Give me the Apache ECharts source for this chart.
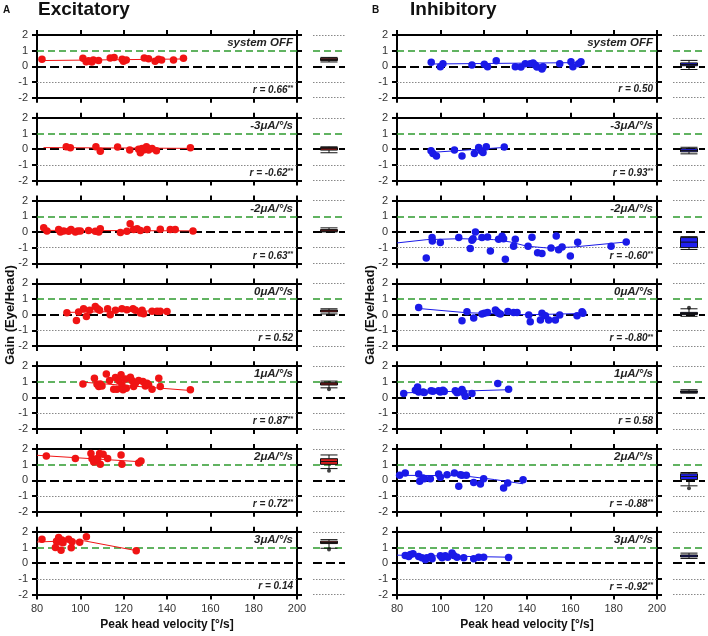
<!DOCTYPE html>
<html>
<head>
<meta charset="utf-8">
<script src="https://cdn.jsdelivr.net/npm/echarts@6/dist/echarts.min.js"></script>
<style>
html, body { margin: 0; padding: 0; background: #fff; }
#chart { width: 708px; height: 636px; }
</style>
</head>
<body>
<div id="chart"></div>
<script>
// conditions (one row of panels each)
const conditions = ['system OFF', '-3\u03bcA/\u00b0/s', '-2\u03bcA/\u00b0/s', '0\u03bcA/\u00b0/s', '1\u03bcA/\u00b0/s', '2\u03bcA/\u00b0/s', '3\u03bcA/\u00b0/s']
const excR = ['0.66**', '-0.62**', '0.63**', '0.52', '0.87**', '0.72**', '0.14']
const inhR = ['0.50', '0.93**', '-0.60**', '-0.80**', '0.58', '-0.88**', '-0.92**']

// Excitatory: [peak head velocity, gain]
const excOff = [[82.3, 0.45], [101.2, 0.51], [102.7, 0.3], [103.8, 0.36], [105.3, 0.28], [106, 0.4], [108.4, 0.38], [113.8, 0.53], [115.6, 0.57], [119.3, 0.45], [119.9, 0.32], [121.2, 0.4], [129.5, 0.53], [131.5, 0.49], [134.5, 0.32], [136.1, 0.45], [137.5, 0.4], [143, 0.4], [147.6, 0.51]]
const excM3 = [[93.5, 0.15], [95.4, 0.09], [107.2, 0.15], [109.2, -0.13], [117.2, 0.13], [122.8, -0.06], [126.9, 0], [127.7, -0.23], [128.5, 0.04], [129.2, -0.06], [130.5, 0.15], [131.5, -0.06], [133.1, 0.04], [135.1, -0.1], [150.8, 0.09]]
const excM2 = [[83.1, 0.26], [84.6, 0.06], [90, 0.15], [90.8, 0], [92.3, 0.06], [94.6, 0.04], [95.7, 0.15], [97.7, 0], [98.8, 0.06], [100, 0.06], [103.8, 0.1], [106.9, 0.04], [108.5, 0], [109.2, 0.21], [118.5, -0.04], [121.5, 0.04], [123, 0.53], [124.6, 0.15], [126.2, 0.21], [127.7, 0.1], [130.8, 0.15], [136.9, 0.17], [141.5, 0.15], [143.8, 0.15], [152, 0.06]]
const exc0 = [[93.8, 0.13], [98.2, -0.36], [99.2, 0.17], [101.5, 0.38], [102.8, -0.11], [104.3, 0.28], [106.9, 0.53], [108, 0.38], [108.9, 0.28], [112.6, 0.38], [113.8, 0], [116.2, 0.28], [119.2, 0.38], [121.5, 0.32], [124.3, 0.38], [125.4, 0.28], [127.7, 0.11], [128.5, 0.28], [129.2, 0.06], [133.1, 0.23], [135.4, 0.23], [136.9, 0.23], [140, 0.21]]
const exc1 = [[101.2, 0.87], [106.5, 1.23], [107.7, 0.85], [108.5, 0.7], [109.2, 0.87], [110, 0.74], [112, 1.51], [113.5, 1.09], [115.4, 0.53], [116.2, 1.28], [116.9, 0.53], [117.7, 1.09], [118.8, 1.45], [119.2, 0.81], [119.7, 0.49], [120.8, 1.19], [121.2, 0.6], [123.1, 1.3], [123.8, 1.09], [124.6, 0.7], [125.4, 0.91], [126.9, 1.09], [128.9, 1.02], [130, 0.74], [130.8, 0.91], [131.5, 0.81], [133.1, 0.53], [136.2, 1.23], [136.9, 0.7], [150.8, 0.49]]
const exc2 = [[84.3, 1.55], [97.7, 1.4], [104.9, 1.72], [105.4, 1.38], [106.2, 1.17], [106.9, 1.34], [108, 1.4], [108.9, 1.72], [109.2, 1.02], [110.5, 1.66], [112.6, 1.4], [118.8, 1.62], [119.2, 1.02], [126.9, 1.11], [128, 1.23]]
const exc3 = [[82.3, 1.53], [88.5, 1.0], [89, 1.4], [90, 1.64], [90.5, 1.36], [91.1, 0.83], [91.5, 1.47], [92, 1.3], [94.6, 1.53], [95.8, 0.98], [96.2, 1.36], [99.7, 1.34], [102.8, 1.68], [125.8, 0.79]]

// Excitatory fit lines
const excOffFit = [[82.3, 0.37], [147.6, 0.47]]
const excM3Fit = [[83, 0.1], [150.8, 0.05]]
const excM2Fit = [[83, 0.1], [152, 0.07]]
const exc0Fit = [[93.8, 0.15], [140, 0.26]]
const exc1Fit = [[101.2, 0.98], [150.8, 0.45]]
const exc2Fit = [[80, 1.6], [128.5, 1.18]]
const exc3Fit = [[80, 1.35], [90, 1.4], [102, 1.42], [125.8, 0.8]]

// Inhibitory: [peak head velocity, gain]
const inhOff = [[95.8, 0.26], [100, -0.02], [101.2, 0.17], [114.6, 0.09], [120.3, 0.13], [121.8, -0.02], [125.8, 0.36], [134.6, -0.02], [137.2, -0.04], [139.2, 0.17], [141.5, 0.17], [142.8, 0.21], [143.8, 0.09], [144.6, -0.04], [146.9, -0.17], [147.4, -0.02], [155.1, 0.17], [160.3, 0.3], [161.2, -0.02], [163.8, 0.17], [164.9, 0.3]]
const inhM3 = [[95.7, -0.11], [96.6, -0.28], [98.2, -0.43], [106.5, -0.06], [110, -0.43], [115.7, -0.28], [117.7, 0.11], [118.8, -0.11], [119.7, -0.21], [121.2, 0.15], [129.5, 0.13]]
const inhM2 = [[93.5, -1.66], [96.2, -0.36], [96.3, -0.57], [100, -0.68], [108.5, -0.36], [113.8, -1.06], [114.6, -0.53], [115.1, -0.43], [116.2, 0], [119.2, -0.36], [121.8, -0.32], [123.1, -1.21], [126.9, -0.47], [128.5, -0.28], [129.2, -0.43], [130, -1.74], [133.8, -0.91], [134.6, -0.47], [140.5, -0.91], [142.3, -0.34], [144.9, -1.32], [146.9, -1.38], [151.1, -1.02], [153.5, -0.26], [154.6, -1.13], [156.2, -0.96], [160, -1.53], [163.4, -0.66], [178.8, -0.91], [185.8, -0.64]]
const inh0 = [[90, 0.47], [110, -0.38], [112.3, 0.19], [115.4, -0.21], [119.2, 0.04], [120.3, 0.09], [121.8, 0.15], [125.4, 0.3], [126.2, 0.19], [126.9, 0.09], [127.7, 0.04], [131.2, 0.21], [133.8, 0.15], [135.4, 0.15], [140.8, -0.02], [141.5, -0.45], [146.2, -0.34], [146.9, 0.09], [148.5, -0.06], [150, -0.34], [153.1, -0.34], [155.1, -0.02], [163.1, -0.06], [165.4, 0.19], [165.8, 0.09]]
const inh1 = [[83.1, 0.26], [88.5, 0.47], [89.5, 0.68], [90, 0.36], [92, 0.36], [92.6, 0.32], [95.7, 0.43], [96.6, 0.4], [99.2, 0.43], [100, 0.36], [101.2, 0.47], [101.8, 0.38], [106.9, 0.43], [107.7, 0.3], [108.5, 0.36], [110, 0.51], [110.8, 0.3], [111.5, 0.09], [114.6, 0.26], [126.5, 0.89], [131.5, 0.53]]
const inh2 = [[81.2, 0.32], [83.8, 0.47], [90, 0.4], [90.5, -0.06], [92, 0.15], [92.6, 0.11], [95.4, 0.11], [99.2, 0.4], [100, 0.19], [103.1, 0.36], [106.5, 0.47], [108.5, -0.38], [109.2, 0.36], [110, 0.32], [112, 0.32], [115.4, -0.13], [118.5, -0.23], [120, 0.11], [129.2, -0.49], [131.1, -0.17], [138.2, 0.04]]
const inh3 = [[83.8, 0.49], [85.4, 0.43], [86.2, 0.55], [87.4, 0.6], [90, 0.43], [91.5, 0.34], [93.1, 0.21], [93.8, 0.34], [95.7, 0.43], [96.2, 0.28], [100, 0.47], [100.8, 0.34], [102.3, 0.47], [103.4, 0.38], [105.4, 0.64], [106.2, 0.49], [107.7, 0.38], [110.8, 0.34], [115.4, 0.28], [117.7, 0.38], [120, 0.38], [131.5, 0.36]]

// Inhibitory fit lines
const inhOffFit = [[95.8, 0.15], [164.9, 0.24]]
const inhM3Fit = [[95.7, -0.21], [129.5, 0.11]]
const inhM2Fit = [[80, -0.7], [93.8, -0.49], [109.2, -0.43], [124.6, -0.49], [132.3, -0.64], [140, -0.91], [149.2, -1.02], [161.5, -0.96], [185.8, -0.64]]
const inh0Fit = [[90, 0.4], [112, 0.13], [140, 0.0], [165.8, 0.08]]
const inh1Fit = [[83.1, 0.3], [131.5, 0.5]]
const inh2Fit = [[80, 0.32], [110, 0.3], [125, 0.05], [138.2, -0.22]]
const inh3Fit = [[80, 0.51], [131.5, 0.38]]

// box plots: [min, Q1, median, Q3, max]
const excBox = [[0.28, 0.37, 0.44, 0.52, 0.57], [-0.23, -0.06, 0.03, 0.1, 0.15], [0, 0.04, 0.07, 0.15, 0.26], [0.05, 0.18, 0.25, 0.3, 0.38], [0.62, 0.8, 0.87, 0.95, 1.05], [0.75, 1.02, 1.2, 1.38, 1.62], [0.95, 1.25, 1.32, 1.4, 1.5]]
const excOutliers = [[], [], [], [], [0.53], [0.62], [0.87]]
const inhBox = [[-0.2, 0.04, 0.12, 0.22, 0.38], [-0.3, -0.17, -0.08, 0.03, 0.12], [-1.12, -1.0, -0.65, -0.36, -0.3], [-0.1, 0.02, 0.08, 0.15, 0.38], [0.28, 0.33, 0.38, 0.42, 0.5], [-0.35, 0.05, 0.25, 0.42, 0.5], [0.3, 0.4, 0.46, 0.52, 0.64]]
const inhOutliers = [[], [], [], [0.45], [], [-0.5], []]

const excPoints = [excOff, excM3, excM2, exc0, exc1, exc2, exc3]
const excFits = [excOffFit, excM3Fit, excM2Fit, exc0Fit, exc1Fit, exc2Fit, exc3Fit]
const inhPoints = [inhOff, inhM3, inhM2, inh0, inh1, inh2, inh3]
const inhFits = [inhOffFit, inhM3Fit, inhM2Fit, inh0Fit, inh1Fit, inh2Fit, inh3Fit]

// layout
const FONT = '"Liberation Sans", Arial, sans-serif'
const TOP0 = 35
const STEP = 82.8
const PH = 62.7
const PW = 260
const BOX_OFF = 276
const BOX_W = 32

const columns = [
  { x0: 37, color: '#f01414', boxFill: '#d81e1e', points: excPoints, fits: excFits, box: excBox, outliers: excOutliers, r: excR },
  { x0: 397, color: '#1a1ae8', boxFill: '#1f1ff0', points: inhPoints, fits: inhFits, box: inhBox, outliers: inhOutliers, r: inhR },
]

const refLines = (withFrame) => {
  const lines = [
    { yAxis: 1, lineStyle: { color: '#2e9a2e', width: 1.5, type: [7, 4] } },
    { yAxis: 0, lineStyle: { color: '#000', width: 2, type: [9, 4] } },
    { yAxis: -1, lineStyle: { color: '#888', width: 1, type: [1.5, 1.5] } },
  ]
  if (!withFrame) {
    lines.push({ yAxis: 2, lineStyle: { color: '#888', width: 1, type: [1.5, 1.5] } })
    lines.push({ yAxis: -2, lineStyle: { color: '#888', width: 1, type: [1.5, 1.5] } })
  }
  return {
    silent: true,
    symbol: 'none',
    label: { show: false },
    animation: false,
    data: lines,
  }
}

const grid = []
const xAxis = []
const yAxis = []
const series = []
const title = []

const frameLine = { show: true, onZero: false, lineStyle: { color: '#000', width: 2 } }
const frameTick = { show: true, inside: false, length: 5, lineStyle: { color: '#000', width: 2 } }

columns.forEach((col) => {
  for (let k = 0; k < 7; k++) {
    const top = TOP0 + STEP * k
    // main scatter panel
    const g = grid.length
    grid.push({ left: col.x0, top: top, width: PW, height: PH })
    const xb = xAxis.length
    xAxis.push({
      gridIndex: g, type: 'value', min: 80, max: 200, interval: 20, position: 'bottom',
      axisLine: frameLine, axisTick: frameTick, splitLine: { show: false },
      axisLabel: { show: k === 6, fontSize: 11, color: '#333', margin: 9, fontFamily: FONT },
    })
    xAxis.push({
      gridIndex: g, type: 'value', min: 80, max: 200, interval: 20, position: 'top',
      axisLine: frameLine, axisTick: frameTick, splitLine: { show: false }, axisLabel: { show: false },
    })
    const yl = yAxis.length
    yAxis.push({
      gridIndex: g, type: 'value', min: -2, max: 2, interval: 1, position: 'left',
      axisLine: frameLine, axisTick: frameTick, splitLine: { show: false },
      axisLabel: { fontSize: 11, color: '#333', margin: 9, fontFamily: FONT },
    })
    yAxis.push({
      gridIndex: g, type: 'value', min: -2, max: 2, interval: 1, position: 'right',
      axisLine: frameLine, axisTick: frameTick, splitLine: { show: false }, axisLabel: { show: false },
    })
    series.push({
      type: 'line', xAxisIndex: xb, yAxisIndex: yl, data: col.fits[k],
      showSymbol: false, symbol: 'none', smooth: false, z: 6, silent: true,
      lineStyle: { color: col.color, width: 1 },
      markLine: refLines(true),
    })
    series.push({
      type: 'scatter', xAxisIndex: xb, yAxisIndex: yl, data: col.points[k],
      symbolSize: 7.5, z: 10, itemStyle: { color: col.color, opacity: 1 },
    })

    // box plot beside it
    const gb = grid.length
    grid.push({ left: col.x0 + BOX_OFF, top: top, width: BOX_W, height: PH })
    const xbb = xAxis.length
    xAxis.push({ gridIndex: gb, type: 'category', data: ['g'], show: false })
    const ybb = yAxis.length
    yAxis.push({ gridIndex: gb, type: 'value', min: -2, max: 2, interval: 1, show: false, splitLine: { show: false } })
    series.push({
      type: 'boxplot', xAxisIndex: xbb, yAxisIndex: ybb, data: [col.box[k]],
      boxWidth: [17, 17], z: 10,
      itemStyle: { color: col.boxFill, borderColor: '#111', borderWidth: 1 },
      markLine: refLines(false),
    })
    series.push({
      type: 'scatter', xAxisIndex: xbb, yAxisIndex: ybb,
      data: col.outliers[k].map((v) => ['g', v]),
      symbolSize: 4, z: 11, itemStyle: { color: '#111' },
    })

    // condition label and correlation
    title.push({
      text: conditions[k], left: col.x0 + 256, top: top + 2, textAlign: 'right', padding: 0,
      textStyle: { fontSize: 11.5, fontWeight: 'bold', fontStyle: 'italic', color: '#222', fontFamily: FONT },
    })
    const rv = col.r[k]
    const stars = rv.endsWith('**') ? '**' : ''
    const num = stars ? rv.slice(0, -2) : rv
    title.push({
      text: '{a|r = ' + num + '}' + (stars ? '{s|' + stars + '}' : ''),
      left: col.x0 + 256, top: top + PH - 13, textAlign: 'right', padding: 0,
      textStyle: {
        rich: {
          a: { fontSize: 10, fontWeight: 'bold', fontStyle: 'italic', color: '#222', fontFamily: FONT },
          s: { fontSize: 7, fontWeight: 'bold', fontStyle: 'italic', color: '#222', fontFamily: FONT, padding: [0, 0, 4, 0] },
        },
      },
    })
  }
})

// panel headings and axis names
title.push({ text: 'A', left: 3, top: 5, padding: 0, textStyle: { fontSize: 10, fontWeight: 'bold', color: '#111', fontFamily: FONT } })
title.push({ text: 'Excitatory', left: 38, top: 0, padding: 0, textStyle: { fontSize: 19, fontWeight: 'bold', color: '#111', fontFamily: FONT } })
title.push({ text: 'B', left: 372, top: 5, padding: 0, textStyle: { fontSize: 10, fontWeight: 'bold', color: '#111', fontFamily: FONT } })
title.push({ text: 'Inhibitory', left: 410, top: 0, padding: 0, textStyle: { fontSize: 19, fontWeight: 'bold', color: '#111', fontFamily: FONT } })
columns.forEach((col) => {
  title.push({
    text: 'Peak head velocity [\u00b0/s]', left: col.x0 + PW / 2, top: 619, textAlign: 'center', padding: 0,
    textStyle: { fontSize: 12, fontWeight: 'bold', color: '#111', fontFamily: FONT },
  })
})

const graphic = columns.map((col) => ({
  type: 'text',
  x: col.x0 - 27,
  y: 315,
  rotation: Math.PI / 2,
  style: {
    text: 'Gain (Eye/Head)',
    font: 'bold 13px ' + FONT,
    fill: '#111',
    align: 'center',
    verticalAlign: 'middle',
    textAlign: 'center',
    textVerticalAlign: 'middle',
  },
}))

const chart = echarts.init(document.getElementById('chart'))
chart.setOption({
  animation: false,
  backgroundColor: '#fff',
  title,
  grid,
  xAxis,
  yAxis,
  series,
  graphic,
})
</script>
</body>
</html>
